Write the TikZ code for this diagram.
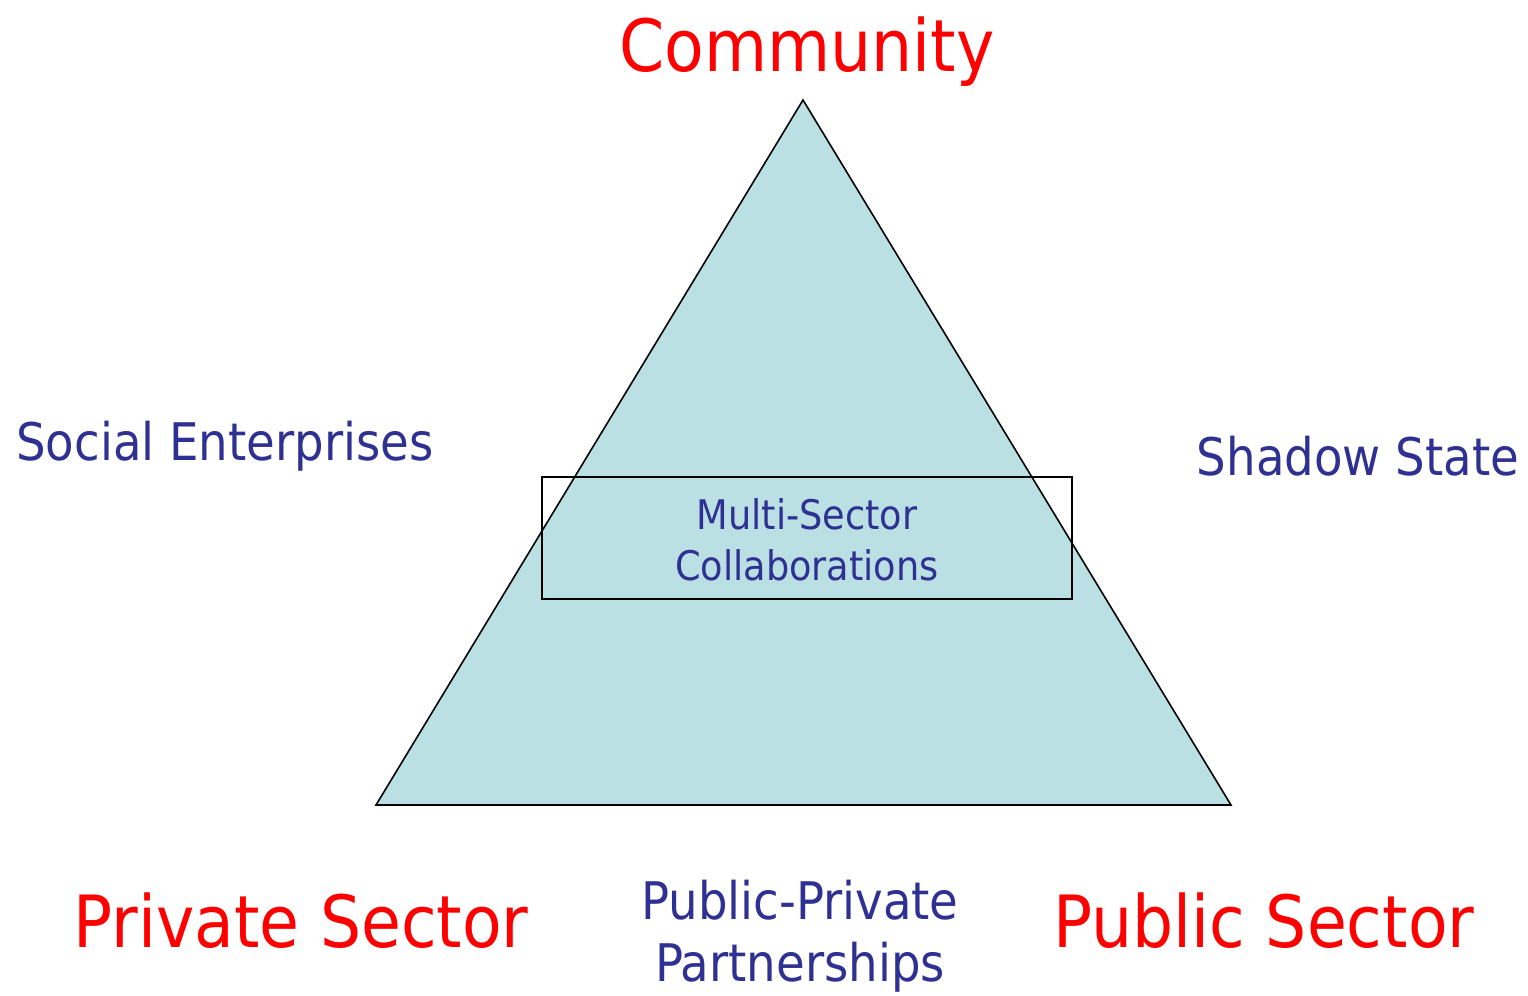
\documentclass[tikz,border=0pt]{standalone}
\usepackage{fontspec}
\setmainfont{DejaVu Sans Condensed}
\usepackage{xcolor}
\usepackage{tikz}
\definecolor{fondo}{HTML}{BBE0E3}
\definecolor{azul}{HTML}{2E3192}
\definecolor{rojo}{HTML}{FF0000}
\tikzset{
  sector/.style={text=rojo, font=\fontsize{41}{49}\selectfont, inner sep=0pt},
  forma/.style={text=azul, font=\fontsize{29.5}{35.5}\selectfont, inner sep=0pt, align=center},
  forma chica/.style={text=azul, font=\fontsize{23.2}{29}\selectfont, inner sep=0pt, align=center}
}
\begin{document}
\begin{tikzpicture}[x=0.02cm, y=-0.02cm]
\useasboundingbox (0,0) rectangle (1528,995);

% Triángulo de los tres sectores
\draw[fill=fondo, line width=0.9pt] (803,100) coordinate (cima)
  -- (1231,805) coordinate (der) -- (376,805) coordinate (izq) -- cycle;

% Rectángulo de colaboración
\draw[line width=0.9pt] (542,477) rectangle (1072,599);

% Sectores
\node[sector, anchor=base] (comunidad) at (807,71) {Community};
\node[sector, anchor=base] (privado) at (301,947) {Private Sector};
\node[sector, anchor=base] (publico) at (1264,947) {Public Sector};

% Formas intermedias
\node[forma, anchor=base] (social) at (225,460) {Social Enterprises};
\node[forma, anchor=base] (sombra) at (1358,475) {Shadow State};
\node[forma chica] (multi) at (807,540) {Multi-Sector\\Collaborations};
\node[forma] (ppp) at (800,936) {Public-Private\\Partnerships};

\end{tikzpicture}
\end{document}
